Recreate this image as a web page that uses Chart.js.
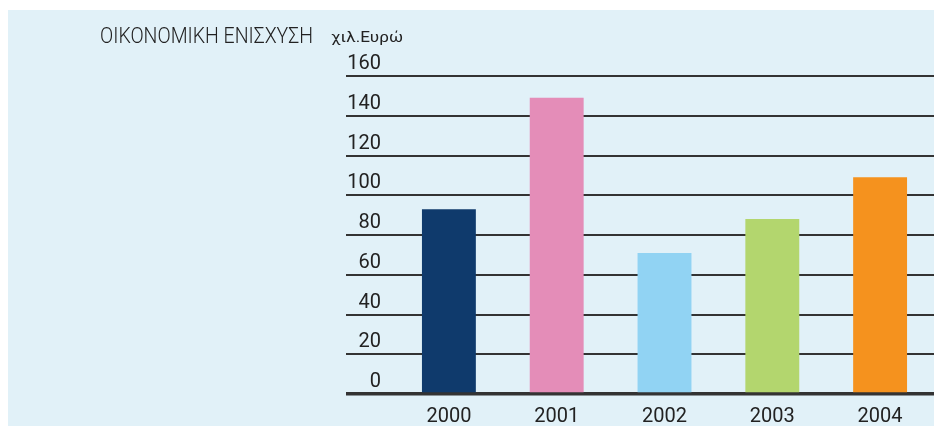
<!DOCTYPE html>
<html>
<head>
<meta charset="utf-8">
<script src="https://cdn.jsdelivr.net/npm/chart.js@4"></script>
<style>
  html, body { margin: 0; padding: 0; background: #fff; }
  #wrap { width: 934px; height: 426px; position: relative; }
</style>
</head>
<body>
<div id="wrap"><canvas id="aid-chart" width="934" height="426"></canvas></div>
<script>
// data
const years = ["2000", "2001", "2002", "2003", "2004"];
const aidValues = [93, 149, 71, 88, 109];
const barColors = ["#0f3a6c", "#e48db8", "#91d3f3", "#b3d66e", "#f5921e"];
const yTicks = [0, 20, 40, 60, 80, 100, 120, 140, 160];

const chartTitle = "ΟΙΚΟΝΟΜΙΚΗ ΕΝΙΣΧΥΣΗ";
const unitLabel = "χιλ.Ευρώ";

// light blue panel + header texts
const panelPlugin = {
  id: "panel",
  beforeDraw(chart) {
    const ctx = chart.ctx;
    ctx.save();
    ctx.fillStyle = "#e1f1f8";
    ctx.fillRect(8, 10, 926, 416);

    ctx.fillStyle = "#222";
    ctx.textBaseline = "alphabetic";
    ctx.font = "300 22px Roboto";
    // condensed look: squeeze to the width of the original
    let w = ctx.measureText(chartTitle).width;
    ctx.translate(100, 43);
    ctx.scale(213 / w, 1);
    ctx.fillText(chartTitle, 0, 0);
    ctx.restore();

    ctx.save();
    ctx.fillStyle = "#222";
    ctx.font = "15px Roboto";
    w = ctx.measureText(unitLabel).width;
    ctx.translate(331, 42);
    ctx.scale(72 / w, 1);
    ctx.fillText(unitLabel, 0, 0);
    ctx.restore();
  },
};

const ctxAid = document.getElementById("aid-chart");

new Chart(ctxAid, {
  type: "bar",
  data: {
    labels: years,
    datasets: [
      {
        label: chartTitle,
        data: aidValues,
        backgroundColor: barColors,
        borderWidth: 0,
        barPercentage: 0.5,
        categoryPercentage: 1,
      },
    ],
  },
  options: {
    responsive: false,
    animation: false,
    layout: { padding: { top: 76, left: 0, right: 0, bottom: 0 } },
    scales: {
      x: {
        afterFit: (s) => { s.height = 32; },
        grid: { display: false, drawTicks: false },
        border: { display: false },
        ticks: {
          color: "#222",
          padding: 11,
          font: { family: "Roboto", size: 20 },
        },
      },
      y: {
        min: 0,
        max: 160,
        afterFit: (s) => { s.width = 395; },
        afterBuildTicks: (s) => { s.ticks = yTicks.map((v) => ({ value: v })); },
        border: { display: false },
        grid: {
          color: "#333",
          lineWidth: (c) => (c.tick && c.tick.value === 0 ? 3.5 : 2),
          drawTicks: true,
          tickLength: 49,
          tickColor: "#333",
        },
        ticks: {
          color: "#222",
          padding: -35,
          labelOffset: -12,
          font: { family: "Roboto", size: 20 },
        },
      },
    },
    plugins: {
      legend: { display: false },
      tooltip: { enabled: false },
      title: { display: false },
    },
  },
  plugins: [panelPlugin],
});
</script>
</body>
</html>
